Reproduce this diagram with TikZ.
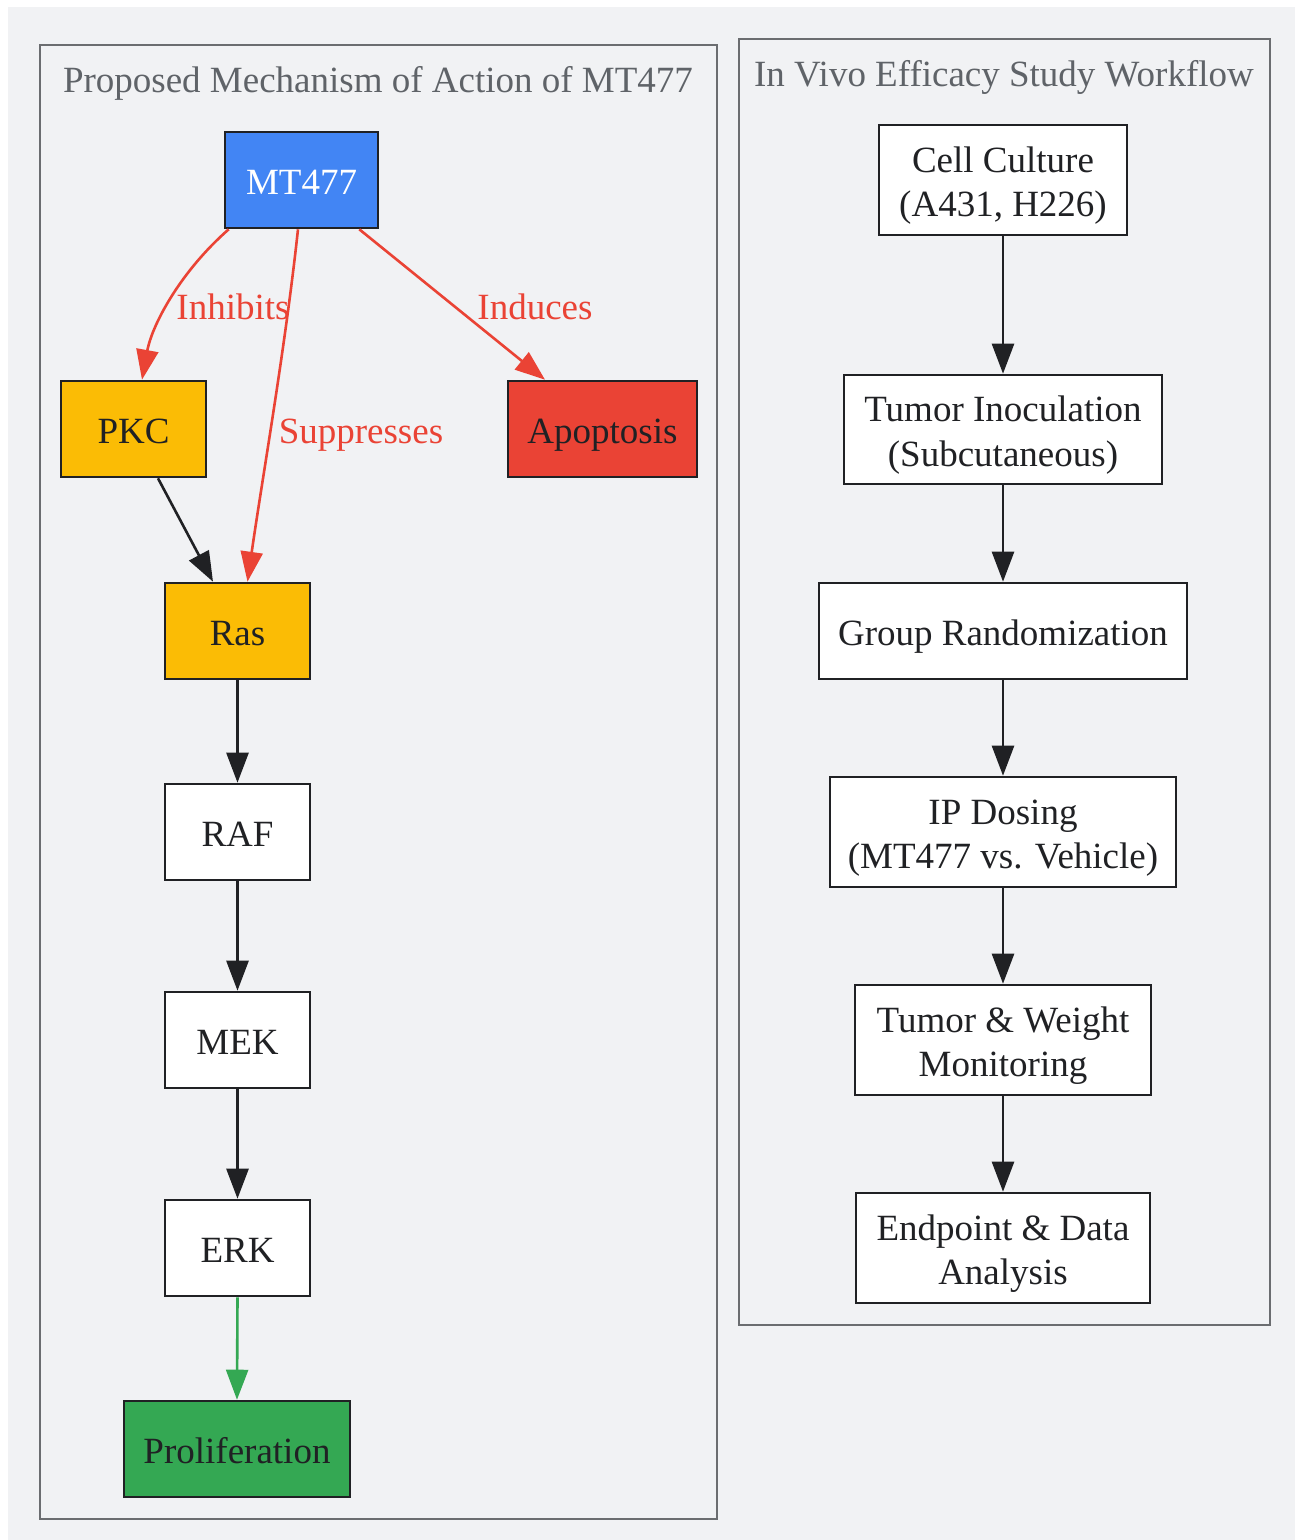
\documentclass[tikz,border=0pt]{standalone}
\usepackage{fontspec}
\setmainfont{Liberation Serif}
\usetikzlibrary{arrows.meta}
\definecolor{bg}{HTML}{F1F2F4}
\definecolor{clusterline}{HTML}{6B6D70}
\definecolor{titlegray}{HTML}{5F6368}
\definecolor{gblue}{HTML}{4285F4}
\definecolor{gyellow}{HTML}{FBBC05}
\definecolor{gred}{HTML}{EA4335}
\definecolor{ggreen}{HTML}{34A853}
\definecolor{ink}{HTML}{202124}
\begin{document}
\begin{tikzpicture}[x=1pt,y=-1pt,
  txt/.style={font=\fontsize{37}{44.4}\selectfont},
  box/.style={txt, draw=ink, line width=2.6pt, fill=white, text=ink, align=center, inner sep=0pt,
    text height=34pt, text depth=6pt},
  twoline/.style={text height=80pt, text depth=7pt},
  cluster/.style={draw=clusterline, line width=2.6pt, fill=bg, inner sep=0pt},
  ctitle/.style={txt, text=titlegray, anchor=base, inner sep=0pt},
  elabel/.style={txt, text=gred, inner sep=0pt, anchor=base},
  tip/.style={-{Triangle[length=30pt,width=22pt]}},
  blackedge/.style={tip, draw=ink, line width=2.6pt},
  rededge/.style={tip, draw=gred, line width=2.6pt},
  greenedge/.style={tip, draw=ggreen, line width=2.6pt}
]
\useasboundingbox (0,0) rectangle (1295,1540);
\fill[white] (0,0) rectangle (1295,1540);
\fill[bg] (8,7) rectangle (1295,1540);

% clusters
\node[cluster, minimum width=677, minimum height=1474] (c1) at (378.5,782) {};
\node[cluster, minimum width=531, minimum height=1286] (c2) at (1004.5,682) {};
\node[ctitle] (t1) at (378,92) {Proposed Mechanism of Action of MT477};
\node[ctitle] (t2) at (1004,86) {In Vivo Efficacy Study Workflow};

% left nodes
\node[box, fill=gblue, text=white, minimum width=153, minimum height=96] (mt) at (301.5,180) {MT477};
\node[box, fill=gyellow, minimum width=145, minimum height=96] (pkc) at (133.5,429) {PKC};
\node[box, fill=gred, minimum width=189, minimum height=96] (apo) at (602.5,429) {Apoptosis};
\node[box, fill=gyellow, minimum width=145, minimum height=96] (ras) at (237.5,631) {Ras};
\node[box, minimum width=145, minimum height=96] (raf) at (237.5,832) {RAF};
\node[box, minimum width=145, minimum height=96] (mek) at (237.5,1040) {MEK};
\node[box, minimum width=145, minimum height=96] (erk) at (237.5,1248) {ERK};
\node[box, fill=ggreen, minimum width=226, minimum height=96] (pro) at (237,1449) {Proliferation};

% right nodes
\node[box, twoline, minimum width=248, minimum height=110] (cc) at (1003,180) {Cell Culture\\(A431, H226)};
\node[box, twoline, minimum width=318, minimum height=109] (ti) at (1003,429.5) {Tumor Inoculation\\(Subcutaneous)};
\node[box, minimum width=368, minimum height=96] (gr) at (1003,631) {Group Randomization};
\node[box, twoline, minimum width=346, minimum height=110] (ip) at (1003,832) {IP Dosing\\(MT477 vs. Vehicle)};
\node[box, twoline, minimum width=296, minimum height=110] (tw) at (1003,1040) {Tumor \& Weight\\Monitoring};
\node[box, twoline, minimum width=294, minimum height=110] (ep) at (1003,1248) {Endpoint \& Data\\Analysis};

% left edges
\draw[rededge] ([xshift=5pt]mt.south west) .. controls (180,272) and (152,325) .. ([xshift=8.5pt]pkc.north);
\draw[rededge] ([xshift=-3.5pt]mt.south) .. controls (285,350) and (262,480) .. ([xshift=10pt]ras.north);
\draw[rededge] ([xshift=-20pt]mt.south east) -- ([xshift=-57.5pt]apo.north);
\draw[blackedge] ([xshift=24.5pt]pkc.south) -- ([xshift=-24.5pt]ras.north);
\draw[blackedge] (ras) -- (raf);
\draw[blackedge] (raf) -- (mek);
\draw[blackedge] (mek) -- (erk);
\draw[greenedge] (erk.south) -- (pro.north);

\node[elabel] (l1) at (233,319.5) {Inhibits};
\node[elabel] (l2) at (361,443.5) {Suppresses};
\node[elabel] (l3) at (535,319.5) {Induces};

% right edges
\draw[blackedge] (cc) -- (ti);
\draw[blackedge] (ti) -- (gr);
\draw[blackedge] (gr) -- (ip);
\draw[blackedge] (ip) -- (tw);
\draw[blackedge] (tw) -- (ep);
\end{tikzpicture}
\end{document}
